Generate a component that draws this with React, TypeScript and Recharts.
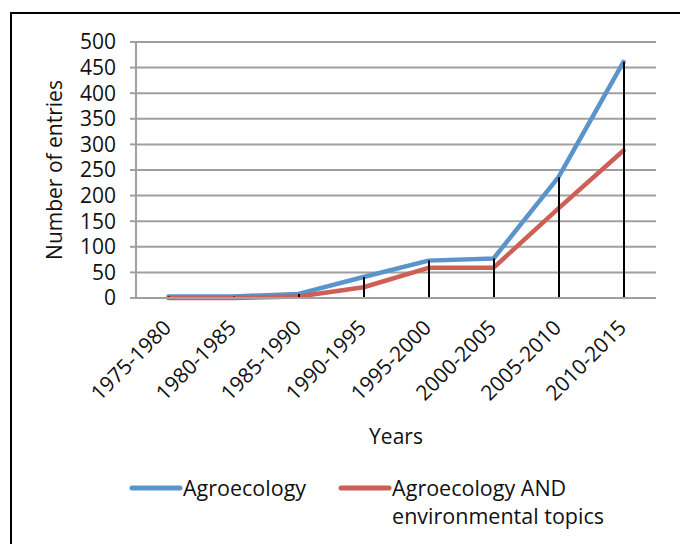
import { ComposedChart, Line, Bar, XAxis, YAxis, CartesianGrid } from 'recharts'

const periods = ['1975-1980', '1980-1985', '1985-1990', '1990-1995', '1995-2000', '2000-2005', '2005-2010', '2010-2015']
const agroecology = [3, 3, 8, 41, 73, 77, 236, 461]
const agroEnv = [0, 0, 3, 21, 59, 59, 175, 288]
const yTicks = [0, 50, 100, 150, 200, 250, 300, 350, 400, 450, 500]

const FONT = '"Open Sans", sans-serif'
const BLUE = '#5b93cb'
const RED = '#cd5f56'
const GRID = '#a0a0a0'
const FS = 21

const data = periods.map((p, i) => ({
  period: p,
  agro: agroecology[i],
  env: agroEnv[i],
}))

function XTick(props: any) {
  const { x, y, payload } = props
  const ax = x + 4
  const ay = y + 31
  return (
    <text
      x={ax}
      y={ay}
      textAnchor="end"
      fontSize={FS}
      fontFamily={FONT}
      fill="#111"
      transform={`rotate(-45, ${ax}, ${ay})`}
    >
      {payload.value}
    </text>
  )
}

function YLabel(props: any) {
  const { viewBox } = props
  const cx = viewBox.x + 19
  const cy = viewBox.y + viewBox.height / 2
  return (
    <text
      x={cx}
      y={cy}
      dy="0.35em"
      textAnchor="middle"
      fontSize={FS}
      fontFamily={FONT}
      fill="#111"
      transform={`rotate(-90, ${cx}, ${cy})`}
    >
      Number of entries
    </text>
  )
}

function LegendLine({ color }: { color: string }) {
  return (
    <svg width={54} height={8} style={{ display: 'block', marginTop: 10 }}>
      <line x1={3} y1={4} x2={51} y2={4} stroke={color} strokeWidth={5} strokeLinecap="round" />
    </svg>
  )
}

export default function App() {
  return (
    <div
      style={{
        position: 'absolute',
        left: 0,
        top: 0,
        width: 680,
        height: 544,
        overflow: 'hidden',
        background: '#fff',
        fontFamily: FONT,
      }}
    >
      <div
        style={{
          position: 'absolute',
          left: 10,
          top: 12,
          width: 720,
          height: 600,
          borderTop: '2px solid #000',
          borderLeft: '2px solid #000',
        }}
      />
      <div style={{ position: 'absolute', left: 0, top: 0 }}>
        <ComposedChart
          width={680}
          height={544}
          data={data}
          margin={{ top: 42, right: 24, left: 36, bottom: 96 }}
        >
          <CartesianGrid vertical={false} stroke={GRID} strokeWidth={2} />
          <XAxis
            dataKey="period"
            interval={0}
            height={150}
            tickLine={false}
            tickSize={0}
            tickMargin={0}
            axisLine={{ stroke: GRID, strokeWidth: 2 }}
            tick={<XTick />}
            label={{
              value: 'Years',
              position: 'insideBottom',
              offset: 4,
              fontSize: FS,
              fontFamily: FONT,
              fill: '#111',
            }}
          />
          <YAxis
            domain={[0, 500]}
            ticks={yTicks}
            width={100}
            interval={0}
            tickSize={6}
            tickMargin={14}
            axisLine={{ stroke: GRID, strokeWidth: 2 }}
            tickLine={{ stroke: GRID, strokeWidth: 2 }}
            tick={{ fontSize: FS, fontFamily: FONT, fill: '#111' }}
            label={<YLabel />}
          />
          <Line
            dataKey="agro"
            stroke={BLUE}
            strokeWidth={4.5}
            strokeLinejoin="round"
            strokeLinecap="round"
            dot={false}
            activeDot={false}
            isAnimationActive={false}
          />
          <Line
            dataKey="env"
            stroke={RED}
            strokeWidth={4.5}
            strokeLinejoin="round"
            strokeLinecap="round"
            dot={false}
            activeDot={false}
            isAnimationActive={false}
          />
          <Bar dataKey="agro" barSize={2} fill="#000" zIndex={450} isAnimationActive={false} />
        </ComposedChart>
      </div>
      <div
        style={{
          position: 'absolute',
          left: 129,
          top: 474,
          display: 'flex',
          fontSize: 21.5,
          lineHeight: '28px',
          color: '#111',
        }}
      >
        <div style={{ display: 'flex', alignItems: 'flex-start' }}>
          <LegendLine color={BLUE} />
          <span>Agroecology</span>
        </div>
        <div style={{ display: 'flex', alignItems: 'flex-start', marginLeft: 32 }}>
          <LegendLine color={RED} />
          <span>
            Agroecology AND
            <br />
            environmental topics
          </span>
        </div>
      </div>
    </div>
  )
}
